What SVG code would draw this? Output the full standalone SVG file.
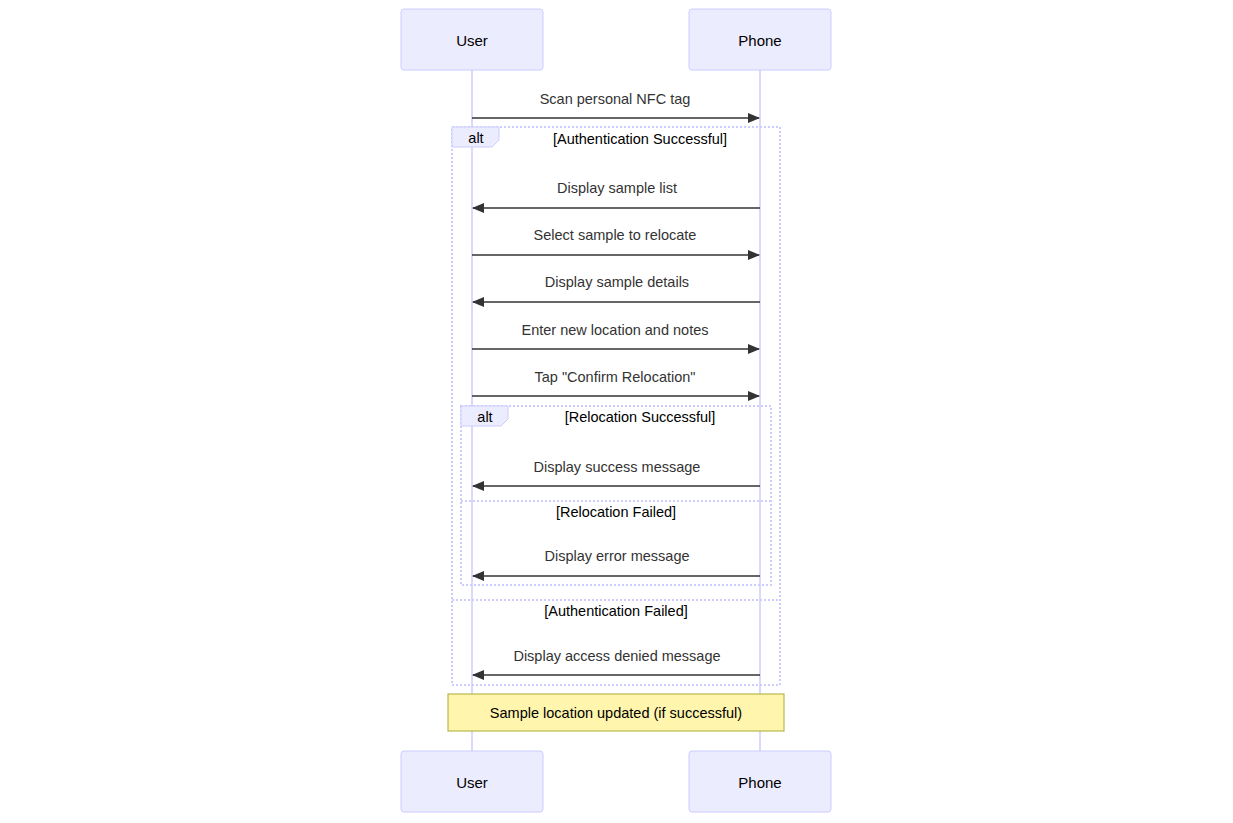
<svg xmlns="http://www.w3.org/2000/svg" width="1233" height="823" viewBox="0 0 1233 823">
  <style>
    .actor { fill: #ECECFF; stroke: #CCCCFF; stroke-width: 1; }
    .actor-text { font-family: "Liberation Sans", Arial, sans-serif; font-size: 15px; fill: #000; text-anchor: middle; dominant-baseline: central; }
    .lifeline { stroke: #CCCCFF; stroke-width: 1.5; fill: none; }
    .msg { stroke: #333; stroke-width: 1.5; fill: none; }
    .msg-text { font-family: "Liberation Sans", Arial, sans-serif; font-size: 14.5px; fill: #333; text-anchor: middle; dominant-baseline: central; }
    .frame { stroke: #CCCCFF; stroke-width: 2; stroke-dasharray: 2 2; fill: none; }
    .frame-label { fill: #ECECFF; stroke: #CCCCFF; stroke-width: 1; }
    .frame-text { font-family: "Liberation Sans", Arial, sans-serif; font-size: 14.5px; fill: #000; text-anchor: middle; dominant-baseline: central; }
    .note { fill: #FFF5AD; stroke: #AAAA33; stroke-width: 1; }
  </style>
  <defs>
    <marker id="arrowhead" viewBox="0 0 12 10" refX="11" refY="5" markerWidth="12" markerHeight="10" markerUnits="userSpaceOnUse" orient="auto">
      <path d="M0,0 L12,5 L0,10 z" fill="#333"/>
    </marker>
  </defs>
  <rect width="1233" height="823" fill="#fff"/>

  <!-- lifelines -->
  <g id="lifelines">
    <line class="lifeline" x1="472" y1="70" x2="472" y2="751"/>
    <line class="lifeline" x1="760" y1="70" x2="760" y2="751"/>
  </g>

  <!-- actors (top) -->
  <g id="actor-user-top">
    <rect class="actor" x="401" y="9" width="142" height="61" rx="3"/>
    <text class="actor-text" x="472" y="40">User</text>
  </g>
  <g id="actor-phone-top">
    <rect class="actor" x="689" y="9" width="142" height="61" rx="3"/>
    <text class="actor-text" x="760" y="40">Phone</text>
  </g>

  <!-- alt frames -->
  <g id="alt-auth">
    <rect class="frame" x="452" y="127" width="328" height="558"/>
    <line class="frame" x1="452" y1="600" x2="780" y2="600"/>
    <path class="frame-label" d="M452,127 L499,127 L499,140 L492,147 L452,147 z"/>
    <text class="frame-text" x="476" y="138">alt</text>
    <text class="frame-text" x="640" y="139">[Authentication Successful]</text>
    <text class="frame-text" x="616" y="611">[Authentication Failed]</text>
  </g>
  <g id="alt-relocation">
    <rect class="frame" x="461" y="406" width="310" height="179"/>
    <line class="frame" x1="461" y1="501" x2="771" y2="501"/>
    <path class="frame-label" d="M461,406 L508,406 L508,419 L501,426 L461,426 z"/>
    <text class="frame-text" x="485" y="417">alt</text>
    <text class="frame-text" x="640" y="417">[Relocation Successful]</text>
    <text class="frame-text" x="616" y="512">[Relocation Failed]</text>
  </g>

  <!-- messages -->
  <g id="connectors">
    <text class="msg-text" x="615" y="99">Scan personal NFC tag</text>
    <line class="msg" x1="472" y1="118" x2="759" y2="118" marker-end="url(#arrowhead)"/>

    <text class="msg-text" x="617" y="188">Display sample list</text>
    <line class="msg" x1="760" y1="208" x2="473" y2="208" marker-end="url(#arrowhead)"/>

    <text class="msg-text" x="615" y="235">Select sample to relocate</text>
    <line class="msg" x1="472" y1="255" x2="759" y2="255" marker-end="url(#arrowhead)"/>

    <text class="msg-text" x="617" y="282">Display sample details</text>
    <line class="msg" x1="760" y1="302" x2="473" y2="302" marker-end="url(#arrowhead)"/>

    <text class="msg-text" x="615" y="330">Enter new location and notes</text>
    <line class="msg" x1="472" y1="349" x2="759" y2="349" marker-end="url(#arrowhead)"/>

    <text class="msg-text" x="615" y="377">Tap "Confirm Relocation"</text>
    <line class="msg" x1="472" y1="396" x2="759" y2="396" marker-end="url(#arrowhead)"/>

    <text class="msg-text" x="617" y="467">Display success message</text>
    <line class="msg" x1="760" y1="486" x2="473" y2="486" marker-end="url(#arrowhead)"/>

    <text class="msg-text" x="617" y="556">Display error message</text>
    <line class="msg" x1="760" y1="576" x2="473" y2="576" marker-end="url(#arrowhead)"/>

    <text class="msg-text" x="617" y="656">Display access denied message</text>
    <line class="msg" x1="760" y1="675" x2="473" y2="675" marker-end="url(#arrowhead)"/>
  </g>

  <!-- note -->
  <g id="note-result">
    <rect class="note" x="448" y="694" width="336" height="37"/>
    <text class="frame-text" x="616" y="713">Sample location updated (if successful)</text>
  </g>

  <!-- actors (bottom) -->
  <g id="actor-user-bottom">
    <rect class="actor" x="401" y="751" width="142" height="61" rx="3"/>
    <text class="actor-text" x="472" y="782">User</text>
  </g>
  <g id="actor-phone-bottom">
    <rect class="actor" x="689" y="751" width="142" height="61" rx="3"/>
    <text class="actor-text" x="760" y="782">Phone</text>
  </g>
</svg>
